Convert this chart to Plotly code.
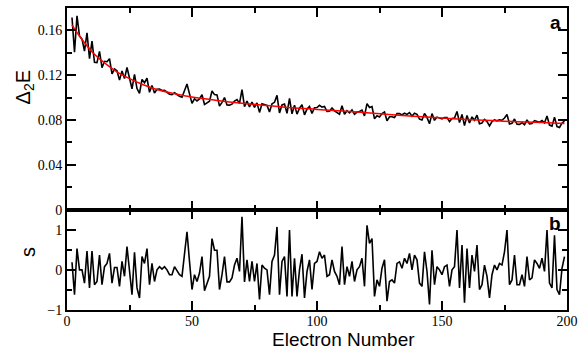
import plotly.graph_objects as go

electron_number = list(range(2, 200))

delta2E = [
    0.1715, 0.1406, 0.1731, 0.1550, 0.1522, 0.1415, 0.1579, 0.1348, 0.1504, 0.1316,
    0.1312, 0.1413, 0.1267, 0.1324, 0.1321, 0.1348, 0.1212, 0.1255, 0.1239, 0.1156,
    0.1238, 0.1170, 0.1269, 0.1178, 0.1079, 0.1207, 0.1081, 0.1039, 0.1163, 0.1133,
    0.1173, 0.1048, 0.1109, 0.1042, 0.1074, 0.1077, 0.1064, 0.1065, 0.1050, 0.1031,
    0.1026, 0.1044, 0.1028, 0.1011, 0.1003, 0.1069, 0.1122, 0.1033, 0.0949, 0.0990,
    0.0970, 0.0988, 0.1026, 0.0938, 0.0954, 0.0968, 0.1059, 0.1027, 0.1024, 0.0924,
    0.0958, 0.1001, 0.0935, 0.0933, 0.0942, 0.0969, 0.0982, 0.0949, 0.1071, 0.0920,
    0.0969, 0.0917, 0.0961, 0.0913, 0.0953, 0.0868, 0.0945, 0.0936, 0.0930, 0.0871,
    0.0945, 0.0958, 0.1020, 0.0863, 0.0935, 0.0943, 0.0860, 0.0993, 0.0856, 0.0933,
    0.0853, 0.0906, 0.0936, 0.0846, 0.0898, 0.0921, 0.0858, 0.0910, 0.0912, 0.0931,
    0.0916, 0.0921, 0.0876, 0.0878, 0.0907, 0.0882, 0.0870, 0.0852, 0.0928, 0.0852,
    0.0883, 0.0864, 0.0890, 0.0852, 0.0871, 0.0876, 0.0889, 0.0837, 0.0947, 0.0912,
    0.0920, 0.0811, 0.0839, 0.0827, 0.0858, 0.0872, 0.0793, 0.0829, 0.0829, 0.0822,
    0.0857, 0.0858, 0.0845, 0.0861, 0.0850, 0.0867, 0.0835, 0.0861, 0.0851, 0.0809,
    0.0801, 0.0859, 0.0823, 0.0767, 0.0857, 0.0797, 0.0826, 0.0819, 0.0810, 0.0822,
    0.0823, 0.0786, 0.0813, 0.0817, 0.0877, 0.0778, 0.0850, 0.0750, 0.0841, 0.0773,
    0.0828, 0.0799, 0.0843, 0.0767, 0.0774, 0.0806, 0.0786, 0.0748, 0.0787, 0.0801,
    0.0793, 0.0802, 0.0798, 0.0818, 0.0850, 0.0765, 0.0771, 0.0809, 0.0762, 0.0761,
    0.0776, 0.0758, 0.0802, 0.0765, 0.0768, 0.0795, 0.0789, 0.0780, 0.0795, 0.0774,
    0.0836, 0.0755, 0.0746, 0.0826, 0.0742, 0.0734, 0.0773, 0.0790,
]

fit_n = [2, 5, 10, 15, 20, 25, 30, 35, 40, 45, 50, 60, 70, 80, 90, 100, 110, 120,
         130, 140, 150, 160, 170, 180, 190, 199]
fit_values = [0.165, 0.155, 0.141, 0.131, 0.123, 0.117, 0.112, 0.108, 0.105, 0.1025,
              0.1005, 0.0975, 0.095, 0.093, 0.091, 0.0895, 0.088, 0.0865, 0.0848,
              0.0832, 0.0818, 0.0805, 0.0795, 0.0785, 0.0777, 0.077]

s_values = [
    0.19, -0.62, 0.53, 0.00, 0.00, -0.33, 0.47, -0.45, 0.47, -0.37,
    -0.29, 0.37, -0.37, 0.08, 0.16, 0.41, -0.33, 0.06, 0.06, -0.41,
    0.21, -0.16, 0.58, 0.05, -0.62, 0.44, -0.45, -0.70, 0.33, 0.16,
    0.53, -0.37, 0.16, -0.29, 0.00, 0.08, 0.02, 0.08, 0.00, -0.12,
    -0.12, 0.08, -0.02, -0.12, -0.16, 0.45, 0.95, 0.21, -0.49, -0.12,
    -0.29, -0.08, 0.33, -0.52, -0.33, -0.16, 0.78, 0.49, 0.49, -0.49,
    -0.12, 0.33, -0.30, -0.30, -0.20, 0.12, 0.29, -0.04, 1.32, -0.30,
    0.25, -0.29, 0.21, -0.29, 0.16, -0.74, 0.12, 0.04, 0.00, -0.62,
    0.21, 0.37, 1.07, -0.62, 0.21, 0.33, -0.66, 0.99, -0.66, 0.29,
    -0.66, 0.00, 0.39, -0.70, -0.04, 0.25, -0.49, 0.16, 0.21, 0.45,
    0.29, 0.37, -0.16, -0.12, 0.25, -0.04, -0.16, -0.37, 0.58, -0.37,
    0.08, -0.16, 0.21, -0.29, 0.00, 0.08, 0.29, -0.41, 1.11, 0.66,
    0.78, -0.66, -0.25, -0.41, 0.04, 0.25, -0.78, -0.29, -0.25, -0.33,
    0.16, 0.20, 0.04, 0.29, 0.16, 0.41, 0.00, 0.37, 0.25, -0.33,
    -0.41, 0.45, -0.04, -0.86, 0.49, -0.37, 0.08, 0.00, -0.12, 0.08,
    0.12, -0.41, 0.00, 0.08, 0.99, -0.45, 0.62, -0.82, 0.53, -0.45,
    0.37, -0.04, 0.62, -0.49, -0.37, 0.12, -0.16, -0.70, -0.12, 0.12,
    0.00, 0.16, 0.12, 0.45, 0.99, -0.37, -0.25, 0.37, -0.37, -0.37,
    -0.12, -0.41, 0.33, -0.25, -0.20, 0.25, 0.16, 0.04, 0.29, -0.04,
    0.99, -0.33, -0.45, 0.86, -0.49, -0.62, 0.04, 0.33,
]

x_tick_vals = [0, 50, 100, 150, 200]
y_top_tick_vals = [0, 0.04, 0.08, 0.12, 0.16]
y_top_tick_text = ["0", "0.04", "0.08", "0.12", "0.16"]
y_bot_tick_vals = [-1, 0, 1]

fig = go.Figure()
fig.add_trace(go.Scatter(x=electron_number, y=delta2E, mode="lines",
                         line=dict(color="black", width=1.6), xaxis="x", yaxis="y",
                         showlegend=False))
fig.add_trace(go.Scatter(x=fit_n, y=fit_values, mode="lines",
                         line=dict(color="#ff0000", width=1.5, shape="spline"),
                         xaxis="x", yaxis="y", showlegend=False))
fig.add_trace(go.Scatter(x=electron_number, y=s_values, mode="lines",
                         line=dict(color="black", width=1.6), xaxis="x2", yaxis="y2",
                         showlegend=False))

tick_font = dict(family="Liberation Serif, Times New Roman, serif", size=14, color="black")
sans = "Liberation Sans, Arial, sans-serif"
split = 101 / 304

common_axis = dict(showline=True, linewidth=2, linecolor="black", mirror="allticks",
                   ticks="inside", tickcolor="black", tickwidth=1.5, showgrid=False,
                   zeroline=False, tickfont=tick_font)

fig.update_layout(
    width=584, height=351,
    margin=dict(l=67, r=14, t=6, b=41),
    paper_bgcolor="white", plot_bgcolor="white",
    xaxis=dict(domain=[0, 1], anchor="y", range=[0, 200], tickvals=x_tick_vals,
               showticklabels=False, ticklen=9,
               minor=dict(dtick=25, tick0=0, ticklen=5, ticks="inside", tickcolor="black",
                          tickwidth=1.5),
               **common_axis),
    yaxis=dict(domain=[split, 1], anchor="x", range=[0, 0.18], tickvals=y_top_tick_vals,
               ticktext=y_top_tick_text, ticklen=9,
               minor=dict(dtick=0.02, tick0=0, ticklen=5, ticks="inside", tickcolor="black",
                          tickwidth=1.5),
               **common_axis),
    xaxis2=dict(domain=[0, 1], anchor="y2", range=[0, 200], tickvals=x_tick_vals,
                ticklen=9, ticklabelstandoff=-3,
                minor=dict(dtick=25, tick0=0, ticklen=5, ticks="inside", tickcolor="black",
                           tickwidth=1.5),
                **common_axis),
    yaxis2=dict(domain=[0, split], anchor="x2", range=[-1, 1.5], tickvals=y_bot_tick_vals,
                ticklen=9,
                minor=dict(dtick=0.5, tick0=0, ticklen=5, ticks="inside", tickcolor="black",
                           tickwidth=1.5),
                **common_axis),
    annotations=[
        dict(text="Electron Number", x=0.552, y=-0.099, xref="paper", yref="paper",
             xanchor="center", yanchor="middle", showarrow=False,
             font=dict(family=sans, size=19, color="black")),
        dict(text="Δ<sub>2</sub>E", x=-0.086, y=0.737, xref="paper", yref="paper",
             xanchor="center", yanchor="middle", showarrow=False, textangle=-90,
             font=dict(family=sans, size=20, color="black")),
        dict(text="s", x=-0.079, y=0.19, xref="paper", yref="paper",
             xanchor="center", yanchor="middle", showarrow=False, textangle=-90,
             font=dict(family=sans, size=20, color="black")),
        dict(text="<b>a</b>", x=0.976, y=0.951, xref="paper", yref="paper",
             xanchor="center", yanchor="middle", showarrow=False,
             font=dict(family=sans, size=19, color="black")),
        dict(text="<b>b</b>", x=0.976, y=0.285, xref="paper", yref="paper",
             xanchor="center", yanchor="middle", showarrow=False,
             font=dict(family=sans, size=19, color="black")),
    ],
)

fig.write_html("out.html", config={"displayModeBar": False},
               post_script="document.body.style.margin='0px';")
